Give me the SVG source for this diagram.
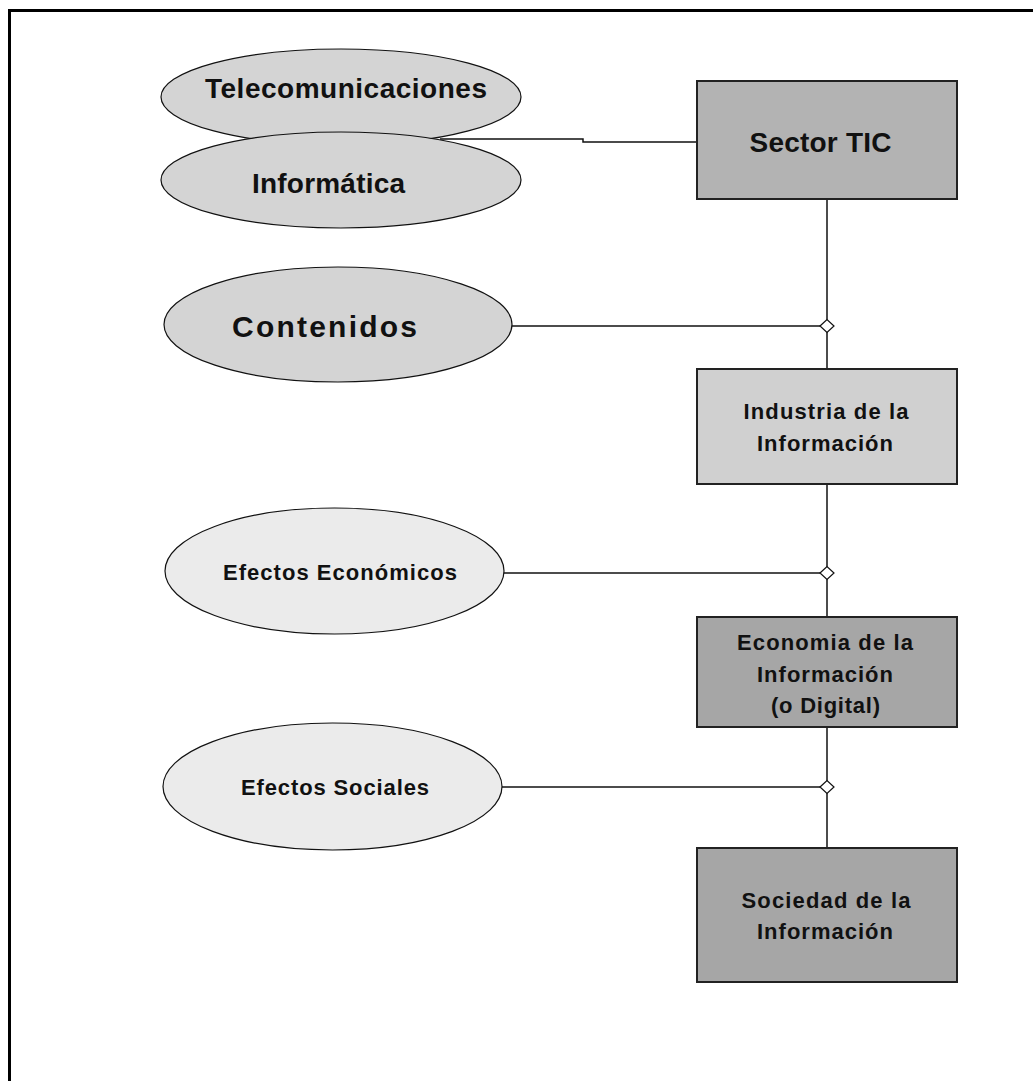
<svg xmlns="http://www.w3.org/2000/svg" width="1033" height="1081" viewBox="0 0 1033 1081">
<style>
.t{font-family:"Liberation Sans",Arial,sans-serif;font-weight:bold;fill:#111;text-anchor:middle}
.big{font-size:28px}
.sm{font-size:22px}
.ell{stroke:#111;stroke-width:1.2}
.box{stroke:#222;stroke-width:2}
.ln{stroke:#111;stroke-width:1.5;fill:none}
.dm{fill:#fff;stroke:#111;stroke-width:1.2}
</style>
<rect width="1033" height="1081" fill="#fff"/>
<rect x="9.5" y="10.5" width="1100" height="1100" fill="none" stroke="#000" stroke-width="3"/>
<g id="connectors">
<polyline class="ln" points="440,139 583,139 583,142 697,142"/>
<line class="ln" x1="827" y1="199" x2="827" y2="369"/>
<line class="ln" x1="827" y1="484" x2="827" y2="617"/>
<line class="ln" x1="827" y1="727" x2="827" y2="848"/>
<line class="ln" x1="512" y1="326" x2="820" y2="326"/>
<line class="ln" x1="504" y1="573" x2="820" y2="573"/>
<line class="ln" x1="502" y1="787" x2="820" y2="787"/>
<path class="dm" d="M820,326 L827,319.5 L834,326 L827,332.5 Z"/>
<path class="dm" d="M820,573 L827,566.5 L834,573 L827,579.5 Z"/>
<path class="dm" d="M820,787 L827,780.5 L834,787 L827,793.5 Z"/>
</g>
<g id="telecomunicaciones">
<ellipse class="ell" cx="341" cy="97" rx="180" ry="48" fill="#d4d4d4"/>
<text class="t big" x="346" y="98" textLength="282" lengthAdjust="spacing">Telecomunicaciones</text>
</g>
<g id="informatica">
<ellipse class="ell" cx="341" cy="180" rx="180" ry="48" fill="#d4d4d4"/>
<text class="t big" x="328.5" y="193" textLength="153" lengthAdjust="spacing">Informática</text>
</g>
<g id="contenidos">
<ellipse class="ell" cx="338" cy="324.5" rx="174" ry="57.5" fill="#d4d4d4"/>
<text class="t" style="font-size:30px" x="324.5" y="337" textLength="185" lengthAdjust="spacing">Contenidos</text>
</g>
<g id="efectos-economicos">
<ellipse class="ell" cx="334.5" cy="571" rx="169.5" ry="63" fill="#ebebeb"/>
<text class="t sm" x="340" y="580" textLength="234" lengthAdjust="spacing">Efectos Económicos</text>
</g>
<g id="efectos-sociales">
<ellipse class="ell" cx="332.5" cy="786.5" rx="169.5" ry="63.5" fill="#ebebeb"/>
<text class="t sm" x="335" y="795" textLength="188" lengthAdjust="spacing">Efectos Sociales</text>
</g>
<g id="sector-tic">
<rect class="box" x="697" y="81" width="260" height="118" fill="#b3b3b3"/>
<text class="t big" x="820.5" y="152" textLength="142" lengthAdjust="spacing">Sector TIC</text>
</g>
<g id="industria">
<rect class="box" x="697" y="369" width="260" height="115" fill="#d0d0d0"/>
<text class="t sm" x="826" y="419" textLength="165" lengthAdjust="spacing">Industria de la</text>
<text class="t sm" x="825" y="451" textLength="136" lengthAdjust="spacing">Información</text>
</g>
<g id="economia">
<rect class="box" x="697" y="617" width="260" height="110" fill="#a6a6a6"/>
<text class="t sm" x="825" y="650" textLength="176" lengthAdjust="spacing">Economia de la</text>
<text class="t sm" x="825" y="682" textLength="136" lengthAdjust="spacing">Información</text>
<text class="t sm" x="825.5" y="713" textLength="109" lengthAdjust="spacing">(o Digital)</text>
</g>
<g id="sociedad">
<rect class="box" x="697" y="848" width="260" height="134" fill="#a6a6a6"/>
<text class="t sm" x="826" y="908" textLength="169" lengthAdjust="spacing">Sociedad de la</text>
<text class="t sm" x="825" y="939" textLength="136" lengthAdjust="spacing">Información</text>
</g>
</svg>
